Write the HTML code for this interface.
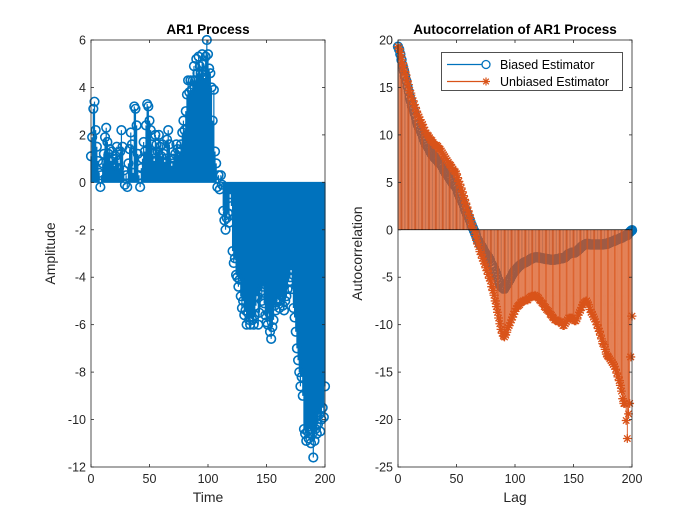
<!DOCTYPE html>
<html><head><meta charset="utf-8"><style>
html,body{margin:0;padding:0;background:#fff;}
svg{display:block;font-family:"Liberation Sans",Arial,sans-serif;}
</style></head><body>
<svg id="fig" width="700" height="525" viewBox="0 0 700 525" xmlns="http://www.w3.org/2000/svg">
<rect width="700" height="525" fill="#fff"/>
<g id="left"></g>
<g id="right"></g>
</svg>
<script>
const ar1Values = [1.1,1.9,3.1,3.4,2.2,1.5,0.9,0.4,-0.2,0.3,
0.8,1.2,1.9,2.3,1.7,1.2,1.4,0.9,1.3,1.0,
0.7,1.1,1.5,0.9,0.6,1.3,2.2,1.5,0.5,-0.1,
0.3,-0.2,0.8,1.4,2.1,1.6,0.4,3.2,3.1,2.4,
1.2,0.3,-0.2,0.6,1.0,1.7,1.3,2.4,3.3,3.2,
2.6,2.2,1.6,1.2,0.9,2.0,1.6,1.3,2.0,1.5,
1.1,1.6,1.2,0.8,1.0,1.8,2.2,1.6,1.0,0.7,
0.8,1.0,1.2,1.6,1.4,1.1,1.3,1.6,2.1,2.6,
2.2,3.0,3.7,4.3,3.8,4.3,3.9,4.3,4.9,4.3,
5.2,4.6,5.3,4.9,4.6,5.4,5.0,4.4,5.3,6.0,
5.4,4.8,4.6,4.0,2.6,3.9,1.3,0.8,-0.2,0.3,
-0.3,0.3,-0.1,-1.2,-1.6,-2.0,-1.5,-1.3,-1.7,-0.5,
-1.0,-2.9,-3.4,-3.2,-3.9,-4.0,-4.4,-4.1,-4.8,-5.3,
-5.0,-5.6,-5.4,-6.0,-5.5,-5.8,-6.0,-5.5,-5.8,-6.0,
-5.6,-5.2,-4.8,-6.0,-5.5,-4.6,-5.0,-4.4,-5.1,-5.6,
-5.9,-6.0,-5.5,-6.3,-6.6,-6.1,-5.8,-5.2,-5.4,-5.0,
-4.9,-5.3,-5.0,-4.8,-5.2,-5.4,-5.0,-4.8,-4.5,-4.2,
-4.0,-3.7,-4.5,-5.3,-5.7,-6.3,-7.0,-7.5,-8.0,-8.6,
-8.2,-9.0,-10.4,-10.6,-10.9,-10.5,-10.8,-10.4,-11.0,-10.6,
-11.6,-10.9,-10.4,-10.6,-10.2,-9.8,-10.5,-10.0,-9.5,-9.9,
-8.6];
const biasedValues = [19.3,19.0,18.5,17.9,17.3,16.8,16.2,15.7,15.1,14.6,14.0,
13.6,13.1,12.7,12.3,11.9,11.5,11.1,10.8,10.5,10.2,
9.9,9.6,9.3,9.0,8.8,8.6,8.4,8.2,8.0,7.8,
7.6,7.5,7.4,7.3,7.1,7.0,6.8,6.6,6.4,6.2,
6.0,5.8,5.6,5.4,5.3,5.1,4.9,4.7,4.6,4.4,
4.1,3.8,3.5,3.2,2.9,2.6,2.3,2.0,1.7,1.4,
1.1,0.8,0.5,0.2,-0.1,-0.4,-0.7,-1.0,-1.2,-1.5,
-1.7,-1.9,-2.1,-2.3,-2.5,-2.7,-2.9,-3.1,-3.3,-3.6,
-3.8,-4.1,-4.4,-4.7,-5.0,-5.3,-5.6,-5.9,-6.1,-6.2,
-6.2,-6.0,-5.8,-5.5,-5.3,-5.1,-4.9,-4.7,-4.5,-4.3,
-4.15,-4.0,-3.9,-3.8,-3.7,-3.6,-3.5,-3.45,-3.4,-3.35,
-3.3,-3.2,-3.1,-3.05,-3.0,-2.95,-2.9,-2.9,-2.9,-2.9,
-2.95,-2.95,-3.0,-3.0,-3.05,-3.05,-3.1,-3.1,-3.1,-3.15,
-3.15,-3.15,-3.15,-3.15,-3.1,-3.1,-3.1,-3.05,-3.0,-3.0,
-3.0,-2.95,-2.85,-2.75,-2.65,-2.55,-2.5,-2.45,-2.4,-2.4,
-2.4,-2.35,-2.25,-2.1,-2.0,-1.9,-1.8,-1.7,-1.6,-1.55,
-1.5,-1.5,-1.5,-1.55,-1.55,-1.55,-1.55,-1.55,-1.55,-1.55,
-1.55,-1.55,-1.55,-1.55,-1.55,-1.5,-1.5,-1.5,-1.45,-1.4,
-1.35,-1.3,-1.25,-1.2,-1.15,-1.1,-1.05,-1.0,-0.95,-0.9,
-0.85,-0.8,-0.73,-0.64,-0.6,-0.55,-0.39,-0.27,-0.13,-0.045];
const unbiasedValues = [19.3,19.1,18.7,18.2,17.6,17.2,16.7,16.3,15.7,15.3,14.7,
14.4,13.9,13.6,13.2,12.9,12.5,12.1,11.9,11.6,11.3,
11.1,10.8,10.5,10.2,10.0,9.9,9.7,9.5,9.4,9.2,
9.0,8.9,8.9,8.8,8.6,8.5,8.3,8.1,7.9,7.7,
7.5,7.3,7.1,6.9,6.8,6.6,6.4,6.2,6.1,5.9,
5.5,5.1,4.8,4.4,4.0,3.6,3.2,2.8,2.4,2.0,
1.6,1.2,0.7,0.3,-0.1,-0.6,-1.1,-1.5,-1.8,-2.3,
-2.6,-3.0,-3.3,-3.6,-4.0,-4.3,-4.7,-5.1,-5.4,-6.0,
-6.4,-6.9,-7.5,-8.1,-8.7,-9.3,-9.9,-10.5,-10.9,-11.2,
-11.3,-11.1,-10.8,-10.3,-10.1,-9.8,-9.5,-9.2,-8.9,-8.6,
-8.3,-8.1,-8.0,-7.9,-7.7,-7.6,-7.5,-7.5,-7.4,-7.4,
-7.4,-7.2,-7.1,-7.0,-7.0,-7.0,-6.9,-7.0,-7.1,-7.2,
-7.4,-7.5,-7.7,-7.8,-8.1,-8.2,-8.4,-8.5,-8.6,-8.9,
-9.0,-9.2,-9.3,-9.5,-9.5,-9.6,-9.7,-9.7,-9.7,-9.9,
-10.1,-10.1,-9.9,-9.7,-9.5,-9.3,-9.3,-9.3,-9.3,-9.5,
-9.6,-9.6,-9.4,-9.0,-8.7,-8.5,-8.2,-7.9,-7.7,-7.6,
-7.5,-7.7,-7.9,-8.4,-8.7,-8.9,-9.2,-9.4,-9.7,-10.0,
-10.4,-10.7,-11.1,-11.5,-12.0,-12.1,-12.6,-13.1,-13.3,-13.4,
-13.6,-13.8,-14.0,-14.2,-14.4,-14.7,-15.1,-15.5,-15.9,-16.4,
-17.0,-17.8,-18.3,-18.3,-20.1,-22.0,-19.4,-18.3,-13.4,-9.1];
const xTicks = [0,50,100,150,200];
const leftYTicks = [-12,-10,-8,-6,-4,-2,0,2,4,6];
const rightYTicks = [-25,-20,-15,-10,-5,0,5,10,15,20];

const NS = "http://www.w3.org/2000/svg";
const BLUE = "#0072BD", ORANGE = "#D95319", AX = "#262626";
function mk(tag, attrs, parent){ const e=document.createElementNS(NS,tag); for(const k in attrs) e.setAttribute(k,attrs[k]); parent.appendChild(e); return e; }

function axes(g, x0, x1, y0, y1, ymin, ymax){
  const sx = v => x0 + (v-0)/(200-0)*(x1-x0);
  const sy = v => y1 - (v-ymin)/(ymax-ymin)*(y1-y0);
  const box = mk("rect",{x:x0,y:y0,width:x1-x0,height:y1-y0,fill:"#fff",stroke:"none"},g);
  
  
  return {sx, sy};
}
function frame(g, x0, x1, y0, y1, sx, sy, yticks, title, xlabel, ylabel){
  const fr = mk("rect",{x:x0,y:y0,width:x1-x0,height:y1-y0,fill:"none",stroke:AX,"stroke-width":0.8},g);
  
  
  xTicks.forEach(t=>{
    const x=sx(t);
    mk("line",{x1:x,x2:x,y1:y1,y2:y1-3,stroke:AX,"stroke-width":0.8},g);
    mk("line",{x1:x,x2:x,y1:y0,y2:y0+3,stroke:AX,"stroke-width":0.8},g);
    const tx=mk("text",{x:x,y:y1+16,"text-anchor":"middle","font-size":"12.5",fill:AX},g);
    tx.textContent=t;
    
    
  });
  yticks.forEach(t=>{
    const y=sy(t);
    mk("line",{x1:x0,x2:x0+3,y1:y,y2:y,stroke:AX,"stroke-width":0.8},g);
    mk("line",{x1:x1,x2:x1-3,y1:y,y2:y,stroke:AX,"stroke-width":0.8},g);
    const tx=mk("text",{x:x0-5,y:y+4.5,"text-anchor":"end","font-size":"12.5",fill:AX},g);
    tx.textContent=t;
    
    
  });
  const tt=mk("text",{x:(x0+x1)/2,y:y0-6,"text-anchor":"middle","font-size":"13.5","font-weight":"bold",fill:"#000"},g);
  tt.textContent=title;
  
  
  const xl=mk("text",{x:(x0+x1)/2,y:y1+35,"text-anchor":"middle","font-size":"14",fill:AX},g);
  xl.textContent=xlabel;
  
  
  const yl=mk("text",{x:0,y:0,"text-anchor":"middle","font-size":"14",fill:AX,transform:`translate(${x0-36},${(y0+y1)/2}) rotate(-90)`},g);
  yl.textContent=ylabel;
  
  
}
function stems(g, vals, sx, sy, color, sw, name){
  const sg = mk("g",{},g);
  
  
  let d="";
  vals.forEach((v,i)=>{ d+=`M${sx(i).toFixed(2)},${sy(0).toFixed(2)}V${sy(v).toFixed(2)}`; });
  mk("path",{d:d,stroke:color,"stroke-width":sw,fill:"none"},sg);
  return sg;
}
function circles(g, vals, sx, sy, name, sw){
  const cg = mk("g",{},g);
  
  
  vals.forEach((v,i)=>{
    const c=mk("circle",{cx:sx(i),cy:sy(v),r:4.3,fill:"none",stroke:BLUE,"stroke-width":sw},cg);
    
    
  });
}
function stars(g, vals, sx, sy, name){
  const cg = mk("g",{},g);
  
  
  let d="";
  const r=4.4, q=3.2;
  vals.forEach((v,i)=>{
    const x=sx(i), y=sy(v);
    d+=`M${x-r},${y}H${x+r}M${x},${y-r}V${y+r}M${x-q},${y-q}L${x+q},${y+q}M${x-q},${y+q}L${x+q},${y-q}`;
  });
  mk("path",{d:d,stroke:ORANGE,"stroke-width":1.3,fill:"none"},cg);
}

// Left plot
const L = document.getElementById("left");
const lx0=91,lx1=325,ly0=40,ly1=467;
const la = axes(L,lx0,lx1,ly0,ly1,-12,6);
stems(L, ar1Values, la.sx, la.sy, BLUE, 1.2, 'ar1');
circles(L, ar1Values, la.sx, la.sy, 'ar1', 1.6);
mk("line",{x1:lx0,x2:lx1,y1:la.sy(0),y2:la.sy(0),stroke:BLUE,"stroke-width":1},L);
frame(L,lx0,lx1,ly0,ly1,la.sx,la.sy,leftYTicks,"AR1 Process","Time","Amplitude");

// Right plot
const R = document.getElementById("right");
const rx0=398,rx1=632,ry0=40,ry1=467;
const ra = axes(R,rx0,rx1,ry0,ry1,-25,20);
stems(R, biasedValues, ra.sx, ra.sy, BLUE, 0.6, 'biased');
circles(R, biasedValues, ra.sx, ra.sy, 'biased', 1.8);
stems(R, unbiasedValues, ra.sx, ra.sy, ORANGE, 0.9, 'unbiased');
stars(R, unbiasedValues, ra.sx, ra.sy, 'unbiased');
mk("line",{x1:rx0,x2:rx1,y1:ra.sy(0),y2:ra.sy(0),stroke:"#000","stroke-width":0.8},R);
frame(R,rx0,rx1,ry0,ry1,ra.sx,ra.sy,rightYTicks,"Autocorrelation of AR1 Process","Lag","Autocorrelation");

// Legend
const lg = mk("g",{},R);


mk("rect",{x:441.5,y:52.5,width:181,height:38,fill:"#fff",stroke:AX,"stroke-width":0.8},lg);
const e1 = mk("g",{},lg);


mk("line",{x1:447,x2:486,y1:64.5,y2:64.5,stroke:BLUE,"stroke-width":1.2},e1);
mk("circle",{cx:486,cy:64.5,r:4,fill:"#fff",stroke:BLUE,"stroke-width":1.3},e1);
const t1=mk("text",{x:500,y:69,"font-size":"12.5",fill:"#000"},e1); t1.textContent="Biased Estimator";
const e2 = mk("g",{},lg);


mk("line",{x1:447,x2:486,y1:81.5,y2:81.5,stroke:ORANGE,"stroke-width":1.2},e2);
mk("path",{d:"M482,81.5H490M486,77.5V85.5M483.2,78.7L488.8,84.3M483.2,84.3L488.8,78.7",stroke:ORANGE,"stroke-width":1.2,fill:"none"},e2);
const t2=mk("text",{x:500,y:86,"font-size":"12.5",fill:"#000"},e2); t2.textContent="Unbiased Estimator";
</script>
</body></html>
